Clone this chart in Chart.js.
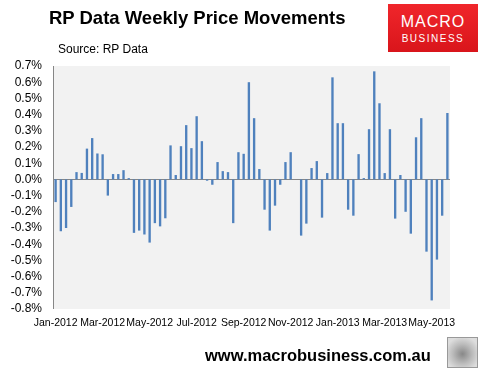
<!DOCTYPE html>
<html>
<head>
<meta charset="utf-8">
<script src="https://cdn.jsdelivr.net/npm/chart.js@4/dist/chart.umd.min.js"></script>
<style>
  body { margin: 0; background: #fff; font-family: "Liberation Sans", Arial, sans-serif; }
  #wrap { position: relative; width: 485px; height: 374px; overflow: hidden; }
  #grafico { position: absolute; left: 0; top: 0; }
  .titulo { position: absolute; left: 49px; top: 7px; font: bold 18.5px "Liberation Sans", Arial, sans-serif; color: #000; white-space: nowrap; }
  .fonte { position: absolute; left: 58px; top: 42px; font: 12px "Liberation Sans", Arial, sans-serif; color: #000; }
  .logo { position: absolute; left: 388px; top: 4px; width: 90px; height: 48px;
          background: linear-gradient(#f0262b, #d9151b); color: #fff; text-align: center; }
  .logo .m { font: 16px "Liberation Sans", Arial, sans-serif; margin-top: 10px; letter-spacing: 1px; line-height: 16px; }
  .logo .b { font: 10px "Liberation Sans", Arial, sans-serif; letter-spacing: 1.5px; line-height: 11px; margin-top: 3px; }
  .site { position: absolute; left: 205px; top: 346px; font: bold 16.5px "Liberation Sans", Arial, sans-serif; color: #000; white-space: nowrap; }
  .lobo { position: absolute; left: 447px; top: 337px; width: 29px; height: 29px; border: 1px solid #999;
          background: radial-gradient(circle at 50% 55%, #888 0%, #bbb 45%, #ddd 80%); }
</style>
</head>
<body>
<div id="wrap">
  <canvas id="grafico" width="485" height="374"></canvas>
  <div class="titulo">RP Data Weekly Price Movements</div>
  <div class="fonte">Source: RP Data</div>
  <div class="logo"><div class="m">MACRO</div><div class="b">BUSINESS</div></div>
  <div class="site">www.macrobusiness.com.au</div>
  <div class="lobo"></div>
</div>
<script>
// semanas (datas de referencia)
const semanas = [
  '2012-01-01','2012-01-08','2012-01-15','2012-01-22','2012-01-29',
  '2012-02-05','2012-02-12','2012-02-19','2012-02-26',
  '2012-03-04','2012-03-11','2012-03-18','2012-03-25',
  '2012-04-01','2012-04-08','2012-04-15','2012-04-22','2012-04-29',
  '2012-05-06','2012-05-13','2012-05-20','2012-05-27',
  '2012-06-03','2012-06-10','2012-06-17','2012-06-24',
  '2012-07-01','2012-07-08','2012-07-15','2012-07-22','2012-07-29',
  '2012-08-05','2012-08-12','2012-08-19','2012-08-26',
  '2012-09-02','2012-09-09','2012-09-16','2012-09-23','2012-09-30',
  '2012-10-07','2012-10-14','2012-10-21','2012-10-28',
  '2012-11-04','2012-11-11','2012-11-18','2012-11-25',
  '2012-12-02','2012-12-09','2012-12-16','2012-12-23','2012-12-30',
  '2013-01-06','2013-01-13','2013-01-20','2013-01-27',
  '2013-02-03','2013-02-10','2013-02-17','2013-02-24',
  '2013-03-03','2013-03-10','2013-03-17','2013-03-24','2013-03-31',
  '2013-04-07','2013-04-14','2013-04-21','2013-04-28',
  '2013-05-05','2013-05-12','2013-05-19','2013-05-26',
  '2013-06-02','2013-06-09'
];

// variacao semanal (%)
const variacao = [
  -0.14, -0.32, -0.30, -0.17, 0.045, 0.04, 0.19, 0.255, 0.16, 0.155,
  -0.10, 0.033, 0.033, 0.057, 0.008, -0.33, -0.316, -0.34, -0.39, -0.27,
  -0.29, -0.24, 0.21, 0.027, 0.205, 0.335, 0.193, 0.39, 0.236, -0.008,
  -0.033, 0.107, 0.051, 0.045, -0.27, 0.168, 0.158, 0.60, 0.378, 0.064,
  -0.187, -0.316, -0.162, -0.033, 0.107, 0.168, 0.0, -0.347, -0.273, 0.07,
  0.113, -0.236, 0.039, 0.63, 0.347, 0.347, -0.187, -0.224, 0.156, 0.008,
  0.31, 0.667, 0.47, 0.039, 0.31, -0.242, 0.027, -0.2, -0.335, 0.26,
  0.378, -0.446, -0.747, -0.495, -0.224, 0.41
];

const meses = ['Jan','Feb','Mar','Apr','May','Jun','Jul','Aug','Sep','Oct','Nov','Dec'];
const intervaloRotulo = 9;
const eixoY = { min: -0.8, max: 0.7, passo: 0.1 };

function rotuloMes(s) {
  const p = s.split('-');
  return meses[parseInt(p[1], 10) - 1] + '-' + p[0];
}

// fundo cinza da area, eixo vertical e linha do zero
const fundoArea = {
  id: 'fundoArea',
  beforeDraw(chart) {
    const a = chart.chartArea, c = chart.ctx;
    c.save();
    c.fillStyle = '#f2f2f2';
    c.fillRect(a.left, a.top, a.right - a.left, a.bottom - a.top);
    c.restore();
  },
  beforeDatasetsDraw(chart) {
    const a = chart.chartArea, c = chart.ctx;
    const y0 = Math.round(chart.scales.y.getPixelForValue(0)) + 0.5;
    c.save();
    c.strokeStyle = '#868686';
    c.lineWidth = 1;
    c.beginPath();
    c.moveTo(a.left, y0);
    c.lineTo(a.right, y0);
    c.moveTo(Math.round(a.left) + 0.5, a.top);
    c.lineTo(Math.round(a.left) + 0.5, a.bottom);
    c.stroke();
    c.restore();
  }
};

document.addEventListener('DOMContentLoaded', function() {
  const ctx = document.getElementById('grafico').getContext('2d');
  new Chart(ctx, {
    type: 'bar',
    data: {
      labels: semanas,
      datasets: [{
        data: variacao,
        backgroundColor: '#4f81bd',
        borderWidth: 0,
        barPercentage: 0.45,
        categoryPercentage: 1
      }]
    },
    options: {
      responsive: false,
      animation: false,
      layout: { padding: { top: 66, right: 35, left: 0, bottom: 40 } },
      plugins: { legend: { display: false }, tooltip: { enabled: false } },
      scales: {
        x: {
          afterFit(scale) { scale.height = 25; },
          grid: { display: false, drawTicks: false },
          border: { display: false },
          ticks: {
            autoSkip: false,
            maxRotation: 0,
            padding: 8,
            color: '#000',
            font: { family: 'Liberation Sans', size: 10.5 },
            callback: function(v, i) {
              return i % intervaloRotulo === 0 ? rotuloMes(semanas[i]) : '';
            }
          }
        },
        y: {
          min: eixoY.min,
          max: eixoY.max,
          afterFit(scale) { scale.width = 53; },
          grid: { display: false, drawTicks: false },
          border: { display: false },
          ticks: {
            stepSize: eixoY.passo,
            maxTicksLimit: 30,
            autoSkip: false,
            padding: 11,
            color: '#000',
            font: { family: 'Liberation Sans', size: 12 },
            callback: function(v) {
              const r = Math.round(v * 10) / 10;
              return (r === 0 ? 0 : r).toFixed(1) + '%';
            }
          }
        }
      }
    },
    plugins: [fundoArea]
  });
});
</script>
</body>
</html>
